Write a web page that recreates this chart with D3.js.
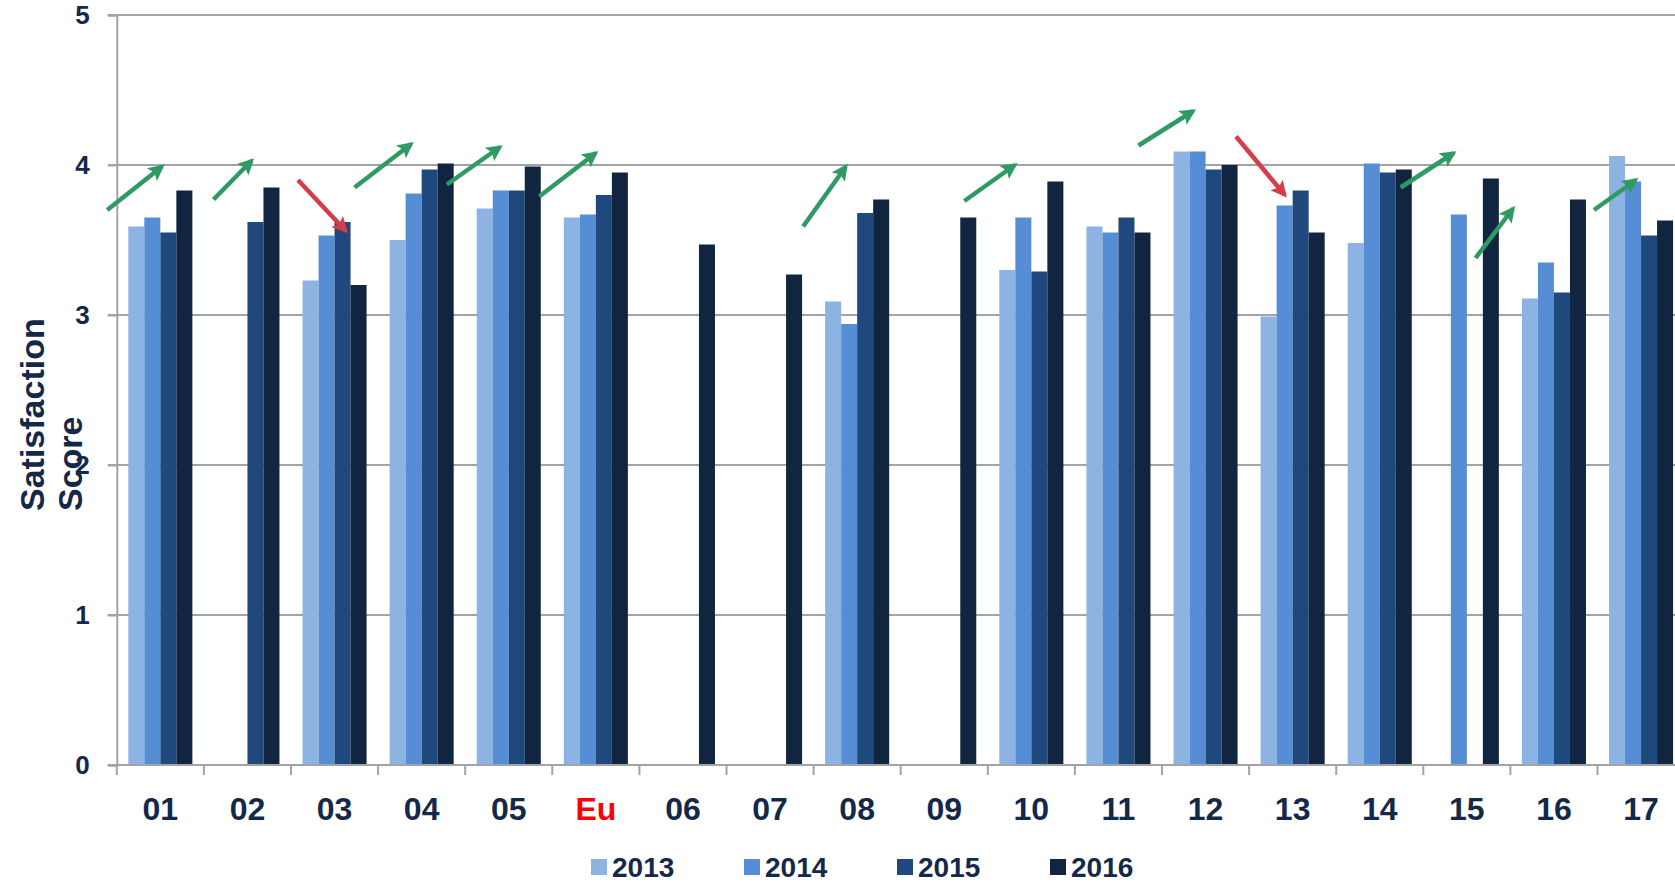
<!DOCTYPE html>
<html>
<head>
<meta charset="utf-8">
<script src="https://d3js.org/d3.v7.min.js"></script>
<style>
  body { margin: 0; background: #fff; }
  #chart { width: 1675px; height: 883px; overflow: hidden; }
  text { font-family: "Liberation Sans", Arial, sans-serif; font-weight: bold; }
</style>
</head>
<body>
<div id="chart"></div>
<script>
// Satisfaction scores per unit and year

const categories = ["01", "02", "03", "04", "05", "Eu", "06", "07", "08", "09",
                    "10", "11", "12", "13", "14", "15", "16", "17"];
const years = ["2013", "2014", "2015", "2016"];
const v2013 = [3.59, null, 3.23, 3.50, 3.71, 3.65, null, null, 3.09, null, 3.30, 3.59, 4.09, 2.99, 3.48, null, 3.11, 4.06];
const v2014 = [3.65, null, 3.53, 3.81, 3.83, 3.67, null, null, 2.94, null, 3.65, 3.55, 4.09, 3.73, 4.01, 3.67, 3.35, 3.89];
const v2015 = [3.55, 3.62, 3.62, 3.97, 3.83, 3.80, null, null, 3.68, null, 3.29, 3.65, 3.97, 3.83, 3.95, null, 3.15, 3.53];
const v2016 = [3.83, 3.85, 3.20, 4.01, 3.99, 3.95, 3.47, 3.27, 3.77, 3.65, 3.89, 3.55, 4.00, 3.55, 3.97, 3.91, 3.77, 3.63];
const yTicks = [0, 1, 2, 3, 4, 5];

// Trend arrows: [category position, score] at tail and head, and up/down
const arrowTail = [[-0.11, 3.70], [1.11, 3.77], [2.08, 3.90], [2.73, 3.85], [3.79, 3.87], [4.85, 3.79],
                   [7.88, 3.59], [9.73, 3.76], [11.73, 4.13], [12.85, 4.19], [14.74, 3.85], [15.60, 3.38], [16.96, 3.70]];
const arrowHead = [[0.52, 3.99], [1.55, 4.03], [2.63, 3.56], [3.38, 4.14], [4.40, 4.12], [5.50, 4.08],
                   [8.37, 3.99], [10.31, 4.00], [12.36, 4.36], [13.41, 3.80], [15.35, 4.08], [16.03, 3.71], [17.44, 3.90]];
const arrowDir = ["up", "up", "down", "up", "up", "up", "up", "up", "up", "down", "up", "up", "up"];

const series = [v2013, v2014, v2015, v2016];
const colours = ["#8db3e2", "#558ed5", "#1f497d", "#122540"];
const textColour = "#14284a";

let cvs = d3.select("#chart");
let width = 1675, height = 883;
let mLeft = 116.8, step = 87.1, mTop = 15, mBottom = 765;

let svg = cvs.append("svg")
    .attr("width", width)
    .attr("height", height);

// Scales
let x = d3.scaleBand()
    .domain(categories)
    .range([mLeft, mLeft + step * categories.length]);
let x1 = d3.scaleBand()
    .domain(years)
    .range([0, x.bandwidth()])
    .paddingOuter(0.72);
let y = d3.scaleLinear()
    .domain([0, 5])
    .range([mBottom, mTop]);

// Gridlines
svg.append("g").selectAll("line")
    .data(yTicks)
    .join("line")
        .attr("x1", mLeft - 9).attr("x2", width)
        .attr("y1", d => y(d)).attr("y2", d => y(d))
        .attr("stroke", "#a3a3a3")
        .attr("stroke-width", 2);

// Y axis
let yAxis = svg.append("g")
    .attr("transform", "translate(" + mLeft + ",0)")
    .call(d3.axisLeft(y).tickValues(yTicks).tickFormat(d3.format("d")).tickSize(9).tickPadding(18));
yAxis.select(".domain").attr("stroke", "#a3a3a3").attr("stroke-width", 2);
yAxis.selectAll(".tick line").attr("stroke", "#a3a3a3").attr("stroke-width", 2);
yAxis.selectAll(".tick text")
    .style("font-size", "26px")
    .style("font-family", "'Liberation Sans', Arial, sans-serif")
    .style("font-weight", "bold")
    .attr("fill", textColour);

// Y axis title, both lines start at the same bottom edge
let yt = svg.append("g");
yt.append("text").text("Satisfaction")
    .attr("transform", "translate(44,511) rotate(-90)")
    .style("font-size", "34px")
    .attr("fill", textColour);
yt.append("text").text("Score")
    .attr("transform", "translate(82,511) rotate(-90)")
    .style("font-size", "34px")
    .attr("fill", textColour);

// Bars
for ( let s = 0; s < series.length; s++ ) {
    svg.append("g").selectAll("rect")
        .data(series[s].map((v, i) => ({ c: categories[i], v: v })).filter(d => d.v != null))
        .join("rect")
            .attr("x", d => x(d.c) + x1(years[s]))
            .attr("width", x1.bandwidth())
            .attr("y", d => y(d.v))
            .attr("height", d => y(0) - y(d.v))
            .attr("fill", colours[s]);
}

// X axis line and category ticks at band boundaries
svg.append("line")
    .attr("x1", mLeft).attr("x2", width)
    .attr("y1", y(0)).attr("y2", y(0))
    .attr("stroke", "#a3a3a3").attr("stroke-width", 2);
svg.append("g").selectAll("line")
    .data(categories)
    .join("line")
        .attr("x1", d => x(d)).attr("x2", d => x(d))
        .attr("y1", y(0)).attr("y2", y(0) + 10)
        .attr("stroke", "#a3a3a3").attr("stroke-width", 2);
svg.append("g").selectAll("text")
    .data(categories)
    .join("text")
        .text(d => d)
        .attr("x", d => x(d) + x.bandwidth() / 2)
        .attr("y", 820)
        .attr("text-anchor", "middle")
        .style("font-size", "32px")
        .attr("fill", d => d == "Eu" ? "#ff0000" : textColour);

// Trend arrows, placed in category / score units
let xPos = t => mLeft + t * step;
let defs = svg.append("defs");
let arrowColours = { up: "#2f9a63", down: "#d43d49" };
for ( let k in arrowColours ) {
    defs.append("marker")
        .attr("id", "head-" + k)
        .attr("viewBox", "0 0 10 10")
        .attr("refX", 8).attr("refY", 5)
        .attr("markerWidth", 3.9).attr("markerHeight", 3.6)
        .attr("markerUnits", "strokeWidth")
        .attr("orient", "auto")
      .append("path")
        .attr("d", "M0,0 L10,5 L0,10 L2,5 Z")
        .attr("fill", arrowColours[k]);
}
for ( let i = 0; i < arrowTail.length; i++ ) {
    svg.append("line")
        .attr("x1", xPos(arrowTail[i][0])).attr("y1", y(arrowTail[i][1]))
        .attr("x2", xPos(arrowHead[i][0])).attr("y2", y(arrowHead[i][1]))
        .attr("stroke", arrowColours[arrowDir[i]])
        .attr("stroke-width", 4.5)
        .attr("marker-end", "url(#head-" + arrowDir[i] + ")");
}

// Legend
let xl = 591, yl = 859;
for ( let i = 0; i < years.length; i++ ) {
    svg.append("rect")
        .attr("x", xl).attr("y", yl)
        .attr("width", 16).attr("height", 16)
        .attr("fill", colours[i]);
    svg.append("text").text(years[i])
        .attr("x", xl + 21).attr("y", 877)
        .style("font-size", "28px")
        .attr("fill", textColour);
    xl += 153;
}
</script>
</body>
</html>
